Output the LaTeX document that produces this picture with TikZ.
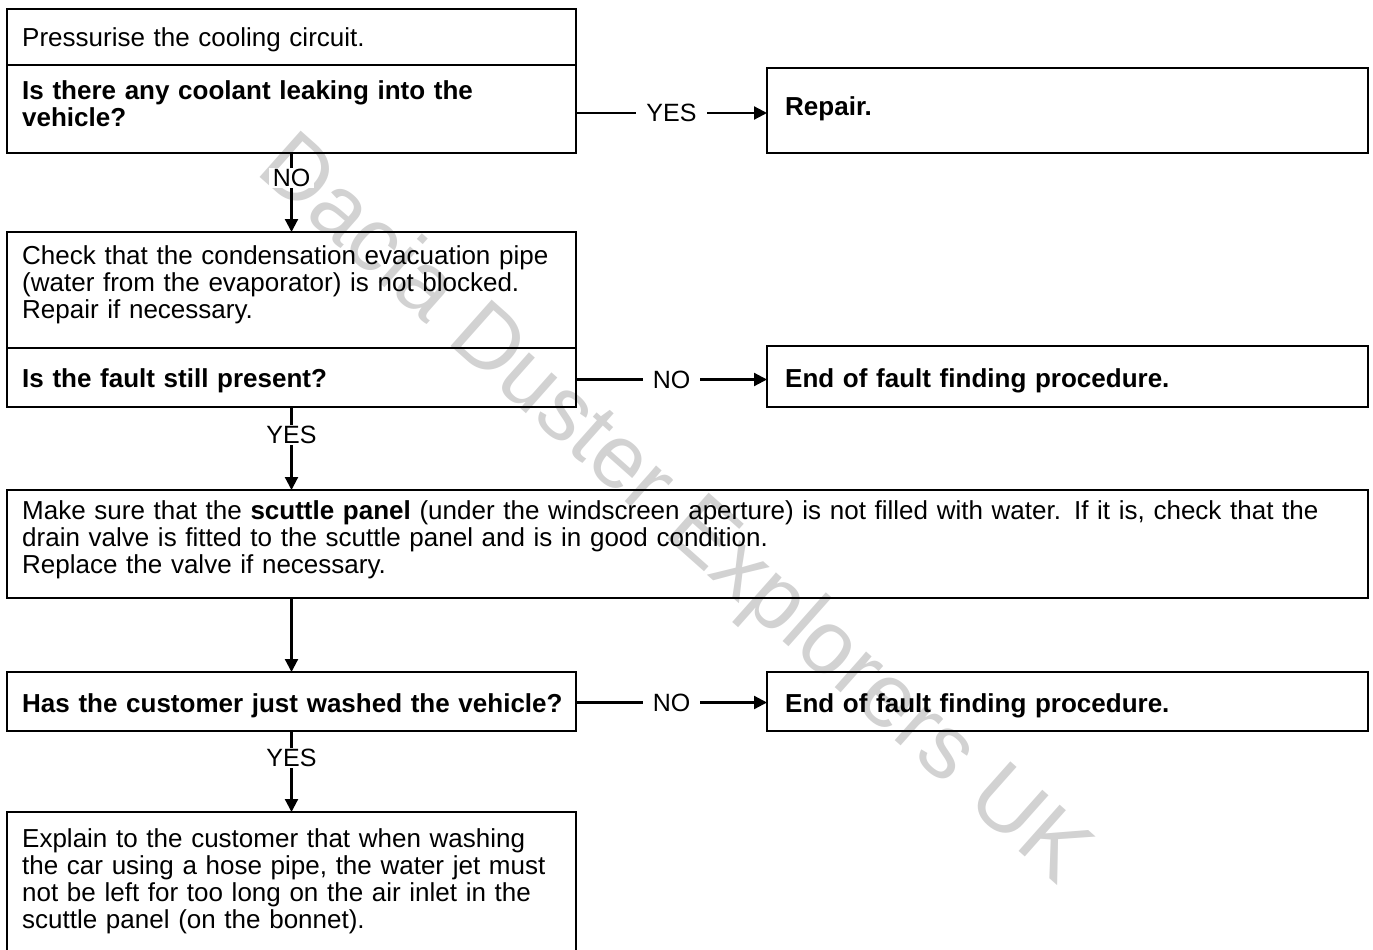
\documentclass[tikz,border=0pt]{standalone}
\usepackage{fontspec}
\setmainfont{Liberation Sans}
\usetikzlibrary{arrows.meta}
\begin{document}
\begin{tikzpicture}[x=1pt,y=-1pt,
  box/.style={draw, line width=2.8pt, inner sep=0pt, outer sep=0pt, anchor=north west},
  txt/.style={anchor=north west, inner sep=0pt, text width=#1, align=left, font=\fontsize{26}{27}\selectfont},
  arr/.style={line width=2.2pt, -{Triangle[length=13pt,width=13pt]}},
  vlab/.style={fill=white, inner xsep=4pt, inner ysep=1pt, font=\fontsize{25}{25}\selectfont},
  hlab/.style={fill=white, inner xsep=10pt, inner ysep=2pt, font=\fontsize{25}{25}\selectfont},
  wm/.style={text=gray!35, font=\fontsize{90}{90}\selectfont, inner sep=0pt}]
\useasboundingbox (0,0) rectangle (1373,950);
\clip (0,0) rectangle (1373,950);
\node[wm, rotate=-41.6] (wmark) at (672,512) {Dacia Duster Explorers UK};
% boxes
\node[box, minimum width=569pt, minimum height=56pt] (A) at (7,9) {};
\node[box, minimum width=569pt, minimum height=88pt] (B) at (7,65) {};
\node[box, minimum width=601pt, minimum height=85pt] (R) at (767,68) {};
\node[box, minimum width=569pt, minimum height=116pt] (C) at (7,232) {};
\node[box, minimum width=569pt, minimum height=59pt] (D) at (7,348) {};
\node[box, minimum width=601pt, minimum height=61pt] (E1) at (767,346) {};
\node[box, minimum width=1361pt, minimum height=108pt] (E) at (7,490) {};
\node[box, minimum width=569pt, minimum height=59pt] (F) at (7,672) {};
\node[box, minimum width=601pt, minimum height=59pt] (E2) at (767,672) {};
\node[box, minimum width=569pt, minimum height=170pt] (G) at (7,812) {};
% texts
\node[txt=560pt] (tA) at (22,27) {\strut Pressurise the cooling circuit.};
\node[txt=560pt] (tB) at (22,80) {\bfseries\strut Is there any coolant leaking into the\\ vehicle?};
\node[txt=570pt] (tR) at (785,96) {\bfseries\strut Repair.};
\node[txt=560pt] (tC) at (22,245) {\strut Check that the condensation evacuation pipe\\ (water from the evaporator) is not blocked.\\ Repair if necessary.};
\node[txt=560pt] (tD) at (22,368) {\bfseries\strut Is the fault still present?};
\node[txt=570pt] (tE1) at (785,368) {\bfseries\strut End of fault finding procedure.};
\node[txt=1400pt] (tE) at (22,500) {\strut Make sure that the \textbf{scuttle panel} (under the windscreen aperture) is not filled with water. If it is, check that the\\ drain valve is fitted to the scuttle panel and is in good condition.\\ Replace the valve if necessary.};
\node[txt=600pt] (tF) at (22,693) {\bfseries\strut Has the customer just washed the vehicle?};
\node[txt=570pt] (tE2) at (785,693) {\bfseries\strut End of fault finding procedure.};
\node[txt=560pt] (tG) at (22,828) {\strut Explain to the customer that when washing\\ the car using a hose pipe, the water jet must\\ not be left for too long on the air inlet in the\\ scuttle panel (on the bonnet).};
% connectors
\draw[arr] ([yshift=-4pt]B.east) -- node[hlab] (lYES1) {YES} ([yshift=-4pt]B.east -| R.west);
\draw[arr] (B.south) -- node[vlab, pos=.32] (lNO1) {NO} (C.north);
\draw[arr] ([yshift=-2pt]D.east) -- node[hlab] (lNO2) {NO} ([yshift=-2pt]D.east -| E1.west);
\draw[arr] (D.south) -- node[vlab, pos=.34] (lYES2) {YES} (D.south |- E.north);
\draw[arr] (F.north |- E.south) -- (F.north);
\draw[arr] ([yshift=-1pt]F.east) -- node[hlab] (lNO3) {NO} ([yshift=-1pt]F.east -| E2.west);
\draw[arr] (F.south) -- node[vlab, pos=.33] (lYES3) {YES} (G.north);
\end{tikzpicture}
\end{document}
